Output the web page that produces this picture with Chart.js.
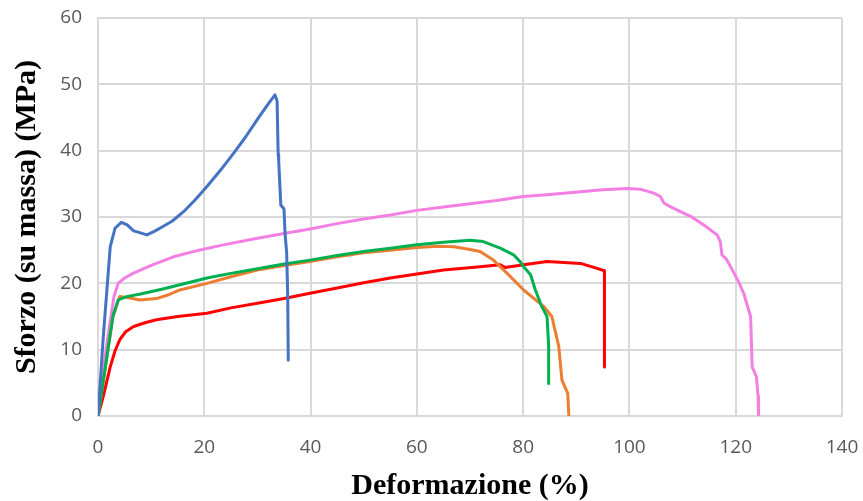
<!DOCTYPE html>
<html>
<head>
<meta charset="utf-8">
<script src="https://cdn.jsdelivr.net/npm/chart.js@4"></script>
<style>
html,body{margin:0;padding:0;background:#fff;}
#wrap{width:863px;height:501px;position:relative;}
</style>
</head>
<body>
<div id="wrap"><canvas id="c" width="863" height="501"></canvas></div>
<script>
const xTicks = [0, 20, 40, 60, 80, 100, 120, 140];
const yTicks = [0, 10, 20, 30, 40, 50, 60];

const blueX = [0, 1, 2.3, 3.2, 4.4, 5.5, 6.7, 8, 9.2, 10.5, 12.3, 14, 16.1, 18.3, 20.5, 23, 25.5, 27.8, 29.9, 31.8, 33.3, 33.7, 33.9, 34.0, 34.4, 35.0, 35.2, 35.5, 35.7, 35.8];
const blueY = [0, 12, 25.5, 28.3, 29.2, 28.8, 27.9, 27.6, 27.3, 27.8, 28.6, 29.4, 30.8, 32.6, 34.6, 37.0, 39.6, 42.1, 44.6, 46.8, 48.4, 47.5, 39.5, 38.5, 31.8, 31.2, 27.5, 24.6, 18, 8.4];

const pinkX = [0, 1.5, 3, 3.8, 5, 6.6, 10, 14.2, 19, 23.6, 30, 35, 39.9, 45, 50, 55, 60, 65, 70, 75, 80, 85, 90.8, 95, 99.6, 102, 104.6, 105.8, 106.5, 107.1, 109.6, 111.5, 114, 116.5, 117.1, 117.4, 118.2, 118.7, 119.7, 120.5, 121.5, 122.8, 123.0, 123.1, 123.9, 124.2, 124.3];
const pinkY = [0, 10, 18, 20, 20.8, 21.5, 22.7, 24, 25, 25.8, 26.8, 27.5, 28.2, 29, 29.7, 30.3, 31, 31.5, 32, 32.5, 33.1, 33.4, 33.8, 34.1, 34.3, 34.2, 33.6, 33.1, 32.1, 31.8, 30.8, 30.1, 28.8, 27.3, 26.3, 24.3, 23.7, 23.0, 21.5, 20.3, 18.5, 15.0, 10, 7.4, 5.9, 3, 0];

const greenX = [0, 1.5, 2.8, 3.8, 5.4, 8, 12, 16, 20.5, 25, 30, 35, 39.9, 45, 50, 55, 60, 65, 70, 72.5, 75.7, 78.2, 79.5, 80.1, 81.4, 82.3, 83.5, 84.5, 84.8, 84.8];
const greenY = [0, 8, 15, 17.5, 18.0, 18.4, 19.1, 19.9, 20.8, 21.5, 22.2, 22.9, 23.5, 24.2, 24.8, 25.3, 25.8, 26.2, 26.5, 26.3, 25.3, 24.3, 23.2, 22.5, 21.3, 19.0, 16.5, 15.0, 10.5, 4.9];

const orangeX = [0, 1.5, 2.8, 4.1, 6, 7.9, 11, 13, 15.4, 20.5, 25, 30, 35, 39.9, 45, 50, 55, 60, 64, 67, 70, 71.9, 74.4, 77, 80.1, 83.9, 85.4, 86.7, 87.3, 88.4, 88.6];
const orangeY = [0, 8, 15, 18.0, 17.8, 17.5, 17.7, 18.2, 19.0, 20.0, 21.0, 22.0, 22.7, 23.3, 24.0, 24.6, 25.0, 25.4, 25.6, 25.5, 25.1, 24.8, 23.5, 21.5, 19.0, 16.5, 15.0, 10.5, 5.4, 3.4, 0];

const redX = [0, 1, 2.3, 3.2, 4.1, 5.2, 6.7, 9, 11, 15, 20.5, 25, 30, 35, 39.9, 45, 50, 55, 60, 65, 71.9, 75.7, 76.6, 80.1, 84.5, 90.8, 93.3, 95.3, 95.3];
const redY = [0, 3, 7.4, 9.8, 11.5, 12.7, 13.5, 14.1, 14.5, 15.0, 15.5, 16.3, 17.0, 17.7, 18.5, 19.3, 20.1, 20.8, 21.4, 22.0, 22.5, 22.8, 22.4, 22.8, 23.3, 23.0, 22.4, 21.9, 7.4];

function pts(xs, ys) { return xs.map((x, i) => ({x: x, y: ys[i]})); }
function ds(xs, ys, color) {
  return {data: pts(xs, ys), borderColor: color, backgroundColor: color, borderWidth: 3,
          showLine: true, pointRadius: 0, tension: 0, borderJoinStyle: 'round', borderCapStyle: 'round', fill: false};
}

const tickFont = {family: "'Liberation Sans Narrow', 'Open Sans', sans-serif", size: 19};
const titleFont = {family: "'Liberation Serif', 'Times New Roman', serif", size: 30, weight: 'bold'};

new Chart(document.getElementById('c'), {
  type: 'scatter',
  data: {
    datasets: [
      ds(blueX, blueY, '#4472C4'),
      ds(greenX, greenY, '#00B050'),
      ds(orangeX, orangeY, '#ED7D31'),
      ds(redX, redY, '#FF0000'),
      ds(pinkX, pinkY, '#F47FE3')
    ]
  },
  options: {
    responsive: false,
    animation: false,
    layout: {padding: {left: 0, right: 21, top: 18, bottom: 0}},
    plugins: {legend: {display: false}, tooltip: {enabled: false}},
    scales: {
      x: {
        type: 'linear', min: 0, max: 140,
        afterBuildTicks: s => { s.ticks = xTicks.map(v => ({value: v})); },
        afterFit: s => { s.height = 85; s.paddingLeft = 0; s.paddingRight = 0; },
        grid: {color: '#D9D9D9', lineWidth: 2, drawTicks: false},
        border: {color: '#D9D9D9', width: 2},
        ticks: {color: '#595959', font: tickFont, padding: 20, maxRotation: 0},
        title: {display: true, text: 'Deformazione (%)', color: '#000', font: titleFont, padding: {top: 0, bottom: -3}}
      },
      y: {
        min: 0, max: 60,
        afterBuildTicks: s => { s.ticks = yTicks.map(v => ({value: v})); },
        afterFit: s => { s.width = 98; s.paddingTop = 0; s.paddingBottom = 0; },
        grid: {color: '#D9D9D9', lineWidth: 2, drawTicks: false},
        border: {color: '#D9D9D9', width: 2},
        ticks: {color: '#595959', font: tickFont, padding: 16},
        title: {display: true, text: 'Sforzo (su massa) (MPa)', color: '#000', font: titleFont, padding: {top: 9, bottom: 0}}
      }
    }
  }
});
</script>
</body>
</html>
